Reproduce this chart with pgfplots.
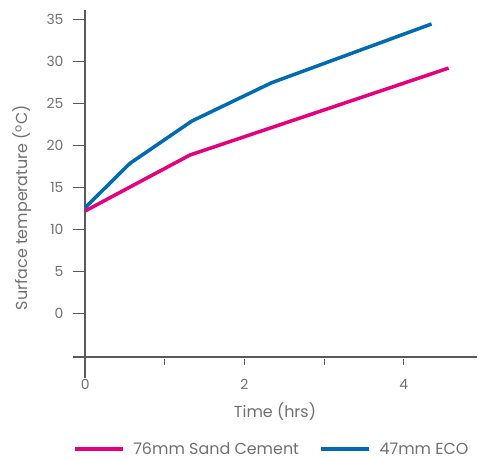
\documentclass[border=0pt]{standalone}
\usepackage{fontspec}
\setmainfont{Poppins}
\usepackage{pgfplots}
\pgfplotsset{compat=1.18}
\definecolor{pinkline}{HTML}{E5007D}
\definecolor{blueline}{HTML}{006AB3}
\definecolor{axisgray}{HTML}{5A5A5A}
\definecolor{textgray}{HTML}{707070}

\begin{document}
\begin{tikzpicture}
\begin{axis}[
  scale only axis,
  width=404bp, height=346.7bp,
  xmin=-0.1545, xmax=4.921,
  ymin=-5.167, ymax=36.1,
  clip=false,
  axis line style={draw=none},
  xtick={0,1,2,3,4}, xticklabels={0,,2,,4},
  ytick={0,5,...,35},
  xtick pos=bottom, ytick pos=left,
  ytick align=inside, xtick align=outside,
  ytick style={axisgray, line width=1bp, /pgfplots/major tick length=12bp},
  xtick style={axisgray, line width=0.8bp, yshift=-2.5bp, /pgfplots/major tick length=6bp},
  /pgf/number format/assume math mode=true,
  ticklabel style={font=\fontsize{14}{16}\selectfont, text=textgray},
  yticklabel style={xshift=-6bp},
  xticklabel style={yshift=-15bp},
  xlabel={Time (hrs)},
  ylabel={Surface temperature (\textsuperscript{o}C)},
  every axis y label/.style={at={(axis cs:-0.789,12.6)}, rotate=90, anchor=center,
    font=\fontsize{16}{18}\selectfont, text=textgray},
  every axis x label/.style={at={(axis cs:2.383,-5.167)}, anchor=north, yshift=-42bp,
    font=\fontsize{16}{18}\selectfont, text=textgray},
  legend columns=2,
  legend style={draw=none, fill=none, at={(axis cs:2.34,-16.15)}, anchor=center,
    font=\fontsize{16}{18}\selectfont, text=textgray,
    /tikz/every odd column/.append style={column sep=7bp},
    /tikz/every even column/.append style={column sep=18bp}},
  legend image code/.code={\draw[#1] (0bp,0bp) -- (48bp,0bp);},
]
\path (axis cs:-1.0716,37.3) rectangle (axis cs:4.946,-17.345);
\draw[axisgray, line width=2bp] (axis cs:-0.1545,-5.167) -- (axis cs:4.921,-5.167);
\draw[axisgray, line width=2bp] (axis cs:0,36.1) -- (axis cs:0,-7.7);

\addplot[pinkline, line width=3.5bp] coordinates {(0,12.2) (1.315,18.85) (4.565,29.2)};
\addlegendentry{76mm Sand Cement}
\addplot[blueline, line width=3.5bp] coordinates {(0,12.6) (0.56,17.85) (1.34,22.9) (2.34,27.45) (4.35,34.45)};
\addlegendentry{47mm ECO}
\end{axis}
\end{tikzpicture}
\end{document}
